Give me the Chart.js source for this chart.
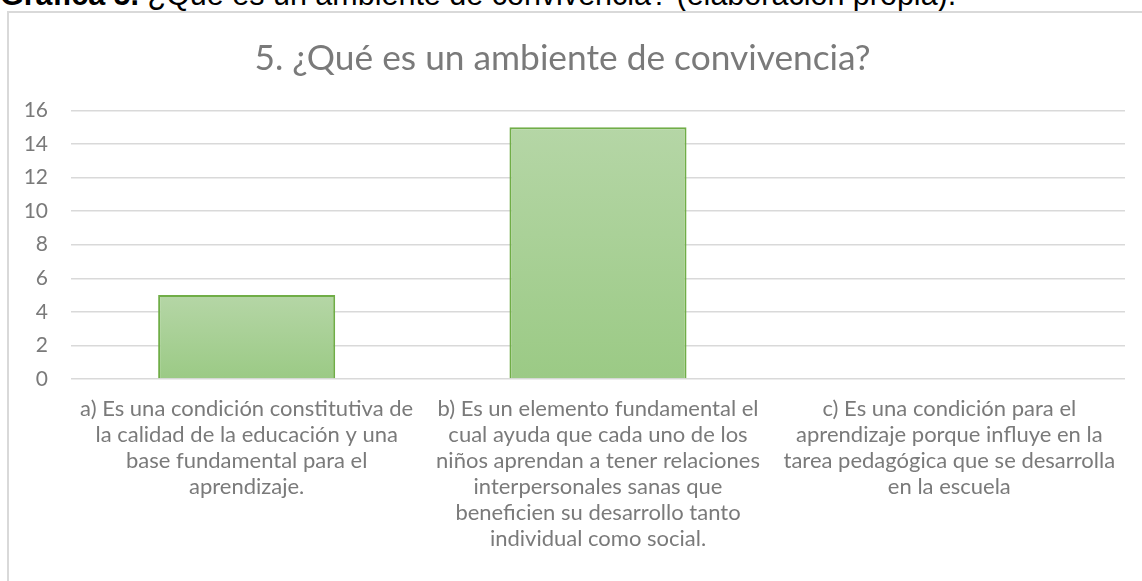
<!DOCTYPE html>
<html lang="es">
<head>
    <meta charset="UTF-8">
    <title>5. ¿Qué es un ambiente de convivencia?</title>
    <script src="https://cdn.jsdelivr.net/npm/chart.js"></script>
    <style>
        html, body {
            margin: 0;
            padding: 0;
            width: 1142px;
            height: 581px;
            overflow: hidden;
            background: #fff;
        }
        .caption {
            position: absolute;
            left: 0;
            top: -21px;
            font-family: "Liberation Sans", Arial, sans-serif;
            font-size: 30.5px;
            line-height: 30.5px;
            color: #000;
            white-space: nowrap;
        }
        .box {
            position: absolute;
            left: 7px;
            top: 11px;
            width: 1200px;
            height: 700px;
            border: 2px solid #d9d9d9;
        }
        .chart-wrap {
            position: absolute;
            left: 0;
            top: 0;
            width: 1142px;
            height: 581px;
        }
    </style>
</head>
<body>
    <div class="caption"><b>Gráfica 5.</b> ¿Qué es un ambiente de convivencia? (elaboración propia).</div>
    <div class="box"></div>
    <div class="chart-wrap">
        <canvas id="chart"></canvas>
    </div>

    <script>
        // data
        const chartTitle = '5. ¿Qué es un ambiente de convivencia?';
        const categories = [
            ['a) Es una condición constitutiva de', 'la calidad de la educación y una', 'base fundamental para el', 'aprendizaje.'],
            ['b) Es un elemento fundamental el', 'cual ayuda que cada uno de los', 'niños aprendan a tener relaciones', 'interpersonales sanas que', 'beneficien su desarrollo tanto', 'individual como social.'],
            ['c) Es una condición para el', 'aprendizaje porque influye en la', 'tarea pedagógica que se desarrolla', 'en la escuela']
        ];
        const counts = [5, 15, 0];
        const yMin = 0, yMax = 16, yStep = 2;

        const textGray = '#7a7a7a';

        // vertical gradient per bar, lighter at the top
        function barFill(ctx) {
            const chart = ctx.chart;
            if (!chart.chartArea || !chart.scales.y) return '#a9d08e';
            const y = chart.scales.y;
            const top = y.getPixelForValue(ctx.raw);
            const bottom = y.getPixelForValue(0);
            if (!isFinite(top) || top === bottom) return '#a9d08e';
            const g = chart.ctx.createLinearGradient(0, top, 0, bottom);
            g.addColorStop(0, '#b5d6a6');
            g.addColorStop(1, '#9bca85');
            return g;
        }

        new Chart(document.getElementById('chart'), {
            type: 'bar',
            data: {
                labels: categories,
                datasets: [{
                    data: counts,
                    backgroundColor: barFill,
                    borderColor: '#70ad47',
                    borderWidth: 2,
                    categoryPercentage: 1,
                    barPercentage: 0.504
                }]
            },
            options: {
                responsive: true,
                maintainAspectRatio: false,
                animation: false,
                layout: {
                    padding: { top: 37, left: 0, right: 17, bottom: 0 }
                },
                plugins: {
                    legend: { display: false },
                    tooltip: { enabled: false },
                    title: {
                        display: true,
                        text: chartTitle,
                        color: textGray,
                        font: { family: 'Lato', size: 35.3, weight: 'normal', lineHeight: 1.2 },
                        padding: { top: 0, bottom: 31 }
                    }
                },
                scales: {
                    y: {
                        min: yMin,
                        max: yMax,
                        ticks: {
                            stepSize: yStep,
                            color: textGray,
                            padding: 23,
                            font: { family: 'Lato', size: 21 }
                        },
                        grid: {
                            color: '#d9d9d9',
                            lineWidth: 1.5,
                            drawTicks: false
                        },
                        border: { display: false },
                        afterFit: (scale) => { scale.width = 71; }
                    },
                    x: {
                        ticks: {
                            color: textGray,
                            maxRotation: 0,
                            autoSkip: false,
                            padding: 17,
                            font: { family: 'Lato', size: 22, lineHeight: 1.18 }
                        },
                        grid: { display: false, drawTicks: false },
                        border: { display: false },
                        afterFit: (scale) => { scale.height = 202; }
                    }
                }
            }
        });
    </script>
</body>
</html>
